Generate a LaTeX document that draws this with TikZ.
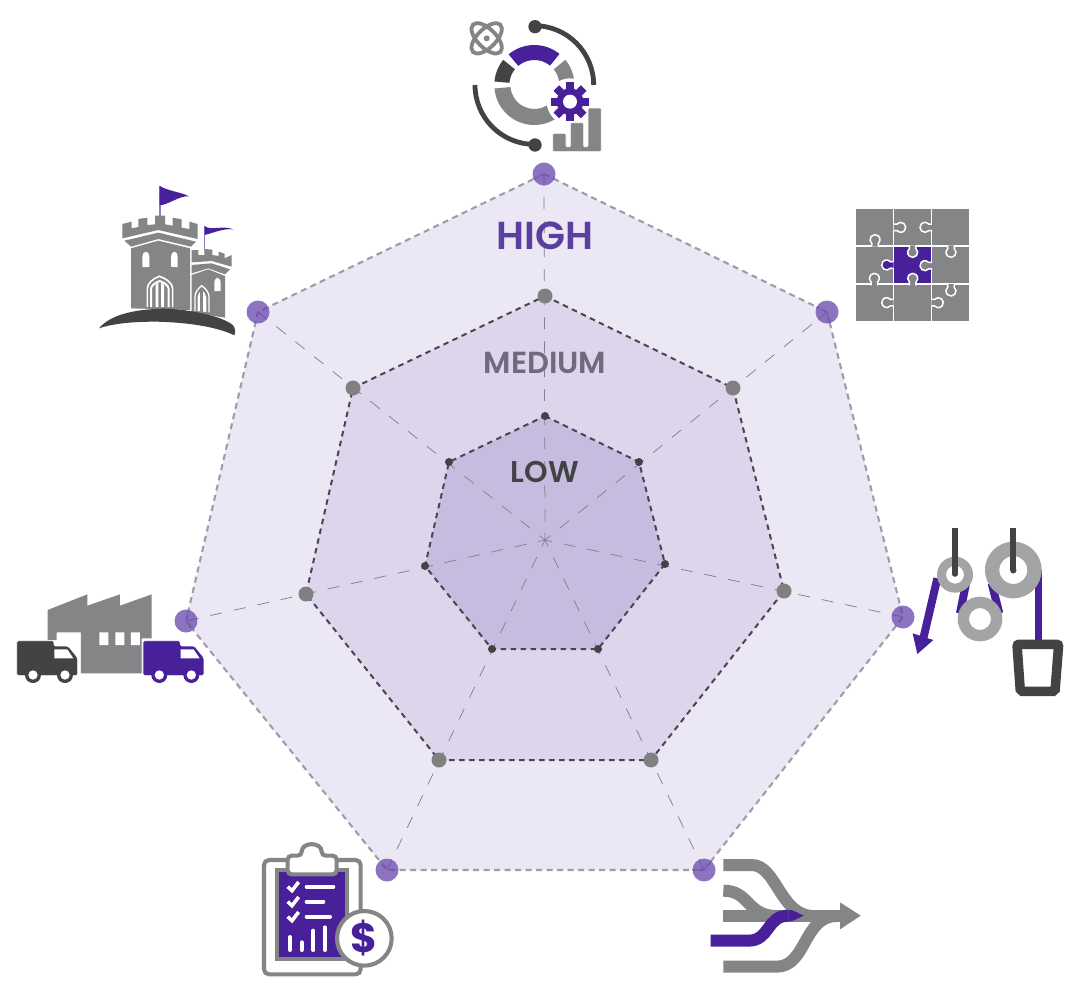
\documentclass[tikz,border=0pt]{standalone}
\usepackage{fontspec}
\setmainfont{Poppins}
\newfontfamily\labfont{Poppins SemiBold}
\definecolor{igray}{HTML}{848586}
\definecolor{idark}{HTML}{414345}
\definecolor{ipurple}{HTML}{47209A}
\definecolor{ilight}{HTML}{A3A4A5}
\definecolor{zoneA}{HTML}{EBE7F5}
\definecolor{zoneB}{HTML}{DCD5EC}
\definecolor{zoneC}{HTML}{C7BCE0}
\definecolor{dotA}{HTML}{7A5CB6}
\definecolor{dotB}{HTML}{808080}
\definecolor{dotC}{HTML}{414345}
\definecolor{lblA}{HTML}{5B3FA0}
\definecolor{lblB}{HTML}{6F6A7D}
\definecolor{edgeA}{HTML}{A09BA8}
\definecolor{edgeB}{HTML}{4A4550}
\definecolor{axisC}{HTML}{85808F}
\tikzset{
  axisline/.style={draw=axisC,line width=0.75pt,dash pattern=on 12pt off 12pt,dash phase=5pt},
  edgeouter/.style={draw=edgeA,line width=2.1pt,dash pattern=on 6pt off 4.5pt},
  edgeinner/.style={draw=edgeB,line width=2pt,dash pattern=on 5.5pt off 4.5pt},
  dotouter/.style={circle,fill=dotA,fill opacity=0.85,inner sep=0pt,minimum size=23pt},
  dotmid/.style={circle,fill=dotB,inner sep=0pt,minimum size=15pt},
  dotlow/.style={circle,fill=dotC,inner sep=0pt,minimum size=8pt},
  lvl/.style={inner sep=0pt,anchor=center},
  zoom/.style={scale=1/3},
}
\newcommand{\ringsec}[5]{% r1 r2 a b colour, centre at origin of scope
  \fill[#5] (#3:#2) arc[start angle=#3,end angle=#4,radius=#2] -- (#4:#1) arc[start angle=#4,end angle=#3,radius=#1] -- cycle;}
\newcommand{\knob}[4]{\begin{scope}[shift={(#1,#2)},rotate=#3]
  \filldraw[draw=white,fill=#4,line width=1.5pt] (21,10) -- (11.5,9.6) arc[start angle=40,end angle=320,radius=15] -- (21,-10);
  \end{scope}}
\newcommand{\truckshape}[1]{%
  \filldraw[fill=#1,draw=white,line width=0.8pt,rounded corners=1.5pt] (35,167) -- (147,167) -- (147,183) -- (190,183) -- (218,218) -- (218,272) -- (35,272) -- cycle;
  \fill[white] (148,193) -- (187,193) -- (205,220) -- (148,220) -- cycle;
  \fill[#1] (84,270) circle[radius=24] (180,270) circle[radius=24];
  \fill[white] (84,270) circle[radius=14] (180,270) circle[radius=14];}
\begin{document}
\begin{tikzpicture}[x=1pt,y=-1pt]
\useasboundingbox (0,0) rectangle (1090,1005);
\fill[white] (0,0) rectangle (1090,1005);
% named vertices
\coordinate (c) at (545,540);
\coordinate (a1) at (544,174);\coordinate (a2) at (827,312);\coordinate (a3) at (903,617);\coordinate (a4) at (704,870);\coordinate (a5) at (387,870);\coordinate (a6) at (186,621);\coordinate (a7) at (258,312);
\coordinate (b1) at (545,296);\coordinate (b2) at (733,388);\coordinate (b3) at (784,591);\coordinate (b4) at (651,760);\coordinate (b5) at (439,760);\coordinate (b6) at (306,594);\coordinate (b7) at (353,388);
\coordinate (l1) at (545,416);\coordinate (l2) at (639,462);\coordinate (l3) at (665,564);\coordinate (l4) at (598,649);\coordinate (l5) at (492,649);\coordinate (l6) at (425,566);\coordinate (l7) at (449,462);
% zones
\fill[zoneA] (a1)--(a2)--(a3)--(a4)--(a5)--(a6)--(a7)--cycle;
\fill[zoneB] (b1)--(b2)--(b3)--(b4)--(b5)--(b6)--(b7)--cycle;
\fill[zoneC] (l1)--(l2)--(l3)--(l4)--(l5)--(l6)--(l7)--cycle;
% axes
\foreach \n in {a1,a2,a3,a4,a5,a6,a7} \draw[axisline] (c) -- (\n);
% edges
\draw[edgeouter] (a1)--(a2)--(a3)--(a4)--(a5)--(a6)--(a7)--cycle;
\draw[edgeinner] (b1)--(b2)--(b3)--(b4)--(b5)--(b6)--(b7)--cycle;
\draw[edgeinner] (l1)--(l2)--(l3)--(l4)--(l5)--(l6)--(l7)--cycle;
% dark marks seen through the outer dots
\foreach \n in {a1,a2,a3,a4,a5,a6,a7} {
  \begin{scope}
    \clip (\n) circle[radius=11.5];
    \draw[draw=edgeB,line width=1.6pt,dash pattern=on 5.5pt off 4.5pt] (a1)--(a2)--(a3)--(a4)--(a5)--(a6)--(a7)--cycle;
    \draw[draw=edgeB,line width=0.8pt] (c) -- (\n);
  \end{scope}
}
% dots
\foreach \n in {a1,a2,a3,a4,a5,a6,a7} \node[dotouter] (d\n) at (\n) {};
\foreach \n in {b1,b2,b3,b4,b5,b6,b7} \node[dotmid] (d\n) at (\n) {};
\foreach \n in {l1,l2,l3,l4,l5,l6,l7} \node[dotlow] (d\n) at (\n) {};
% labels
\node[lvl,text=lblA,font=\labfont\fontsize{39}{39}\selectfont] (high) at (545,236) {HIGH};
\node[lvl,text=lblB,font=\labfont\fontsize{30.5}{30}\selectfont] (medium) at (545,363) {MEDIUM};
\node[lvl,text=idark,font=\labfont\fontsize{30}{30}\selectfont] (low) at (545,472) {LOW};

% === top icon
\begin{scope}[shift={(450,0)},zoom]
  \begin{scope}[shift={(253,255)}]
    \ringsec{75}{120}{230}{309}{ipurple}
    \ringsec{75}{120}{185}{219}{idark}
    \ringsec{75}{120}{321}{355}{igray}
    \ringsec{72}{120}{175}{58}{igray}
    \draw[idark,line width=4.8pt] (0:178) arc[start angle=0,end angle=-90,radius=178];
    \draw[idark,line width=4.8pt] (180:178) arc[start angle=180,end angle=90,radius=178];
  \end{scope}
  \fill[idark] (255,80) circle[radius=20] (255,435) circle[radius=20];
  \fill[white] (360,305) circle[radius=70];
  \filldraw[igray,draw=white,line width=0.8pt,rounded corners=1pt] (308,455) -- (308,400) -- (348,400) -- (348,440) -- (361,440) -- (361,368) -- (401,368) -- (401,440) -- (414,440) -- (414,324) -- (454,324) -- (454,455) -- cycle;
  \begin{scope}[shift={(360,305)}]
    \foreach \a in {0,45,90,135} \fill[ipurple,rotate=\a] (-12,-58) rectangle (12,58);
    \fill[ipurple] (0,0) circle[radius=40];
    \fill[white] (0,0) circle[radius=21];
  \end{scope}
  \begin{scope}[shift={(110,115)}]
    \draw[igray,line width=3.8pt,rotate=45] (0,0) ellipse[x radius=58,y radius=28];
    \draw[igray,line width=3.8pt,rotate=-45] (0,0) ellipse[x radius=58,y radius=28];
    \fill[igray] (0,0) circle[radius=9];
  \end{scope}
\end{scope}

% === castle
\begin{scope}[shift={(90,175)},zoom]
  \draw[ipurple!60,line width=1.6pt] (210,33) -- (210,125);
  \fill[ipurple] (209,33) .. controls (240,50) and (270,50) .. (297,64) .. controls (265,62) and (240,88) .. (209,91) -- cycle;
  \draw[ipurple!60,line width=1.5pt] (344,153) -- (344,225);
  \fill[ipurple] (344,153) .. controls (360,168) and (400,150) .. (430,163) .. controls (400,160) and (375,172) .. (344,180) -- cycle;
  % small tower
  \fill[igray] (305,300) -- (355,283) -- (405,303) -- (405,428) -- (305,412) -- cycle;
  \fill[white] (373,348) -- (373,325) .. controls (373,315) and (377,310) .. (382,308) .. controls (388,310) and (392,315) .. (392,325) -- (392,348) -- cycle;
  \fill[igray] (305,225) -- (325,225) -- (325,240) -- (343,240) -- (343,222) -- (367,224) -- (367,240) -- (386,243) -- (386,230) -- (404,236) -- (404,250) -- (425,240) -- (425,275) -- (365,258) -- (305,262) -- cycle;
  \fill[igray] (305,270) -- (365,265) -- (420,283) -- (405,298) -- (355,280) -- (305,295) -- cycle;
  % big tower
  \fill[igray] (123,220) -- (205,197) -- (300,220) -- (300,405) -- (123,400) -- cycle;
  \fill[igray] (97,147) -- (125,140) -- (125,160) -- (145,156) -- (145,132) -- (172,128) -- (172,150) -- (195,148) -- (195,122) -- (225,122) -- (225,148) -- (248,152) -- (248,128) -- (275,133) -- (275,158) -- (298,162) -- (298,140) -- (323,147) -- (323,192) -- (205,165) -- (97,190) -- cycle;
  \fill[igray] (103,197) -- (205,173) -- (318,200) -- (303,215) -- (205,192) -- (123,215) -- cycle;
  \fill[white] (157,276) -- (157,245) .. controls (157,236) and (162,231) .. (168,230) .. controls (174,231) and (178,236) .. (178,245) -- (178,276) -- cycle;
  \fill[white] (243,275) -- (243,245) .. controls (243,236) and (248,231) .. (253,230) .. controls (259,231) and (263,236) .. (263,245) -- (263,277) -- cycle;
  \draw[white,line width=1.6pt] (172,396) -- (172,340) .. controls (172,325) and (190,310) .. (208,304) .. controls (228,310) and (248,325) .. (248,340) -- (248,396);
  \draw[white,line width=2pt] (183,396) -- (183,342) .. controls (183,332) and (197,322) .. (209,318) .. controls (222,322) and (236,332) .. (236,342) -- (236,396);
  \fill[white] (197,396) -- (197,330) -- (205,322) -- (205,396) -- cycle (213,396) -- (213,322) -- (222,330) -- (222,396) -- cycle;
  \draw[white,line width=1.3pt] (315,408) -- (315,365) .. controls (315,352) and (325,340) .. (335,332) .. controls (346,340) and (357,352) .. (357,365) -- (357,412);
  \fill[white] (323,408) -- (323,368) .. controls (323,358) and (329,350) .. (335,345) .. controls (341,350) and (349,358) .. (349,368) -- (349,411) -- cycle;
  \fill[igray] (331,345) rectangle (339,410);
  \fill[idark] (27,460) .. controls (60,420) and (130,403) .. (220,401) .. controls (300,402) and (400,425) .. (428,450) .. controls (436,458) and (437,470) .. (433,481) .. controls (380,455) and (290,442) .. (200,440) .. controls (130,440) and (70,445) .. (27,460) -- cycle;
\end{scope}

% === puzzle
\begin{scope}[shift={(810,195)},zoom]
  \fill[igray] (138,42) rectangle (477,378);
  \fill[ipurple] (252,154) rectangle (364,266);
  \draw[white,line width=1.5pt] (251,42) -- (251,378) (365,42) -- (365,378) (138,153) -- (477,153) (138,267) -- (477,267);
  \knob{195}{134}{-90}{igray}
  \knob{272}{97}{180}{igray}
  \knob{345}{97}{0}{igray}
  \knob{423}{172}{90}{igray}
  \knob{308}{172}{90}{igray}
  \knob{345}{212}{0}{igray}
  \knob{308}{250}{-90}{igray}
  \knob{230}{210}{0}{ipurple}
  \knob{193}{250}{-90}{igray}
  \knob{230}{323}{0}{igray}
  \knob{385}{323}{180}{igray}
  \knob{423}{288}{90}{igray}
\end{scope}

% === pulleys
\begin{scope}[shift={(880,515)},zoom]
  \fill[ipurple] (466,165) rectangle (485,385);
  \draw[ipurple,line width=8pt] (258,205) -- (240,295) (335,205) -- (358,295);
  \draw[ipurple,line width=8pt] (172,190) -- (130,370);
  \fill[ipurple] (112,417) -- (98,355) -- (160,375) -- cycle;
  \fill[ilight,even odd rule] (225,179) circle[radius=54] (225,179) circle[radius=27];
  \fill[ilight,even odd rule] (400,165) circle[radius=85] (400,165) circle[radius=42];
  \fill[ilight,even odd rule] (300,312) circle[radius=67] (300,312) circle[radius=33];
  \draw[idark,line width=6.3pt] (225,40) -- (225,176);
  \fill[idark] (225,176) circle[radius=9.5];
  \draw[idark,line width=6.3pt] (400,40) -- (400,166);
  \fill[idark] (400,166) circle[radius=9.5];
  \draw[idark,line width=9.5pt,rounded corners=2pt] (411,388) -- (536,388) -- (525,529) -- (421,529) -- cycle;
\end{scope}

% === merge
\begin{scope}[shift={(680,845)},zoom]
  \draw[igray,line width=12pt] (130,60) -- (215,60) .. controls (290,60) and (300,213) .. (400,213);
  \draw[igray,line width=12pt] (130,137) .. controls (210,137) and (200,213) .. (290,213);
  \draw[igray,line width=12pt] (130,213) -- (490,213);
  \draw[igray,line width=12pt] (130,365) -- (290,365) .. controls (380,365) and (370,213) .. (470,213);
  \fill[igray] (480,172) -- (542,212) -- (480,253) -- cycle;
  \draw[ipurple,line width=12pt] (92,287) -- (205,287) .. controls (270,287) and (260,212) .. (325,212);
  \fill[ipurple] (325,194) .. controls (340,194) and (355,205) .. (371,212) .. controls (355,219) and (340,230) .. (325,230) -- cycle;
\end{scope}

% === clipboard
\begin{scope}[shift={(250,835)},zoom]
  \draw[igray,line width=4.1pt,fill=white,rounded corners=5pt] (42,75) rectangle (332,418);
  \draw[igray,line width=4.1pt,fill=ipurple] (82,105) rectangle (292,372);
  \draw[igray,line width=4.1pt,fill=white,rounded corners=4pt] (113,118) -- (113,62) -- (155,62) .. controls (155,20) and (215,20) .. (215,62) -- (260,62) -- (260,118) -- cycle;
  \foreach \y in {155,200,245} {
    \draw[white,line width=3.6pt] (113,\y) -- (126,\y+12) -- (146,\y-14);
  }
  \draw[white,line width=4pt,line cap=round] (170,155) -- (250,155) (170,200) -- (220,200) (170,245) -- (240,245);
  \draw[white,line width=4pt,line cap=round] (120,345) -- (120,306) (155,345) -- (155,322) (190,345) -- (190,287) (225,345) -- (225,277);
  \draw[igray,line width=4.1pt,fill=white] (343,310) circle[radius=82];
  \node[inner sep=0pt,text=ipurple,font=\bfseries\fontsize{41}{41}\selectfont] (dollar) at (343,310) {\$};
\end{scope}

% === factory + trucks
\begin{scope}[shift={(5,585)},zoom]
  \fill[igray] (128,75) -- (247,28) -- (247,62) -- (345,28) -- (345,62) -- (440,28) -- (440,160) -- (410,160) -- (410,265) -- (228,265) -- (228,142) -- (155,142) -- (155,165) -- (128,165) -- cycle;
  \fill[white] (283,142) rectangle (310,180) (331,142) rectangle (358,180) (378,142) rectangle (405,180);
  \truckshape{idark}
  \begin{scope}[xshift=379]
    \truckshape{ipurple}
  \end{scope}
\end{scope}
\end{tikzpicture}
\end{document}
